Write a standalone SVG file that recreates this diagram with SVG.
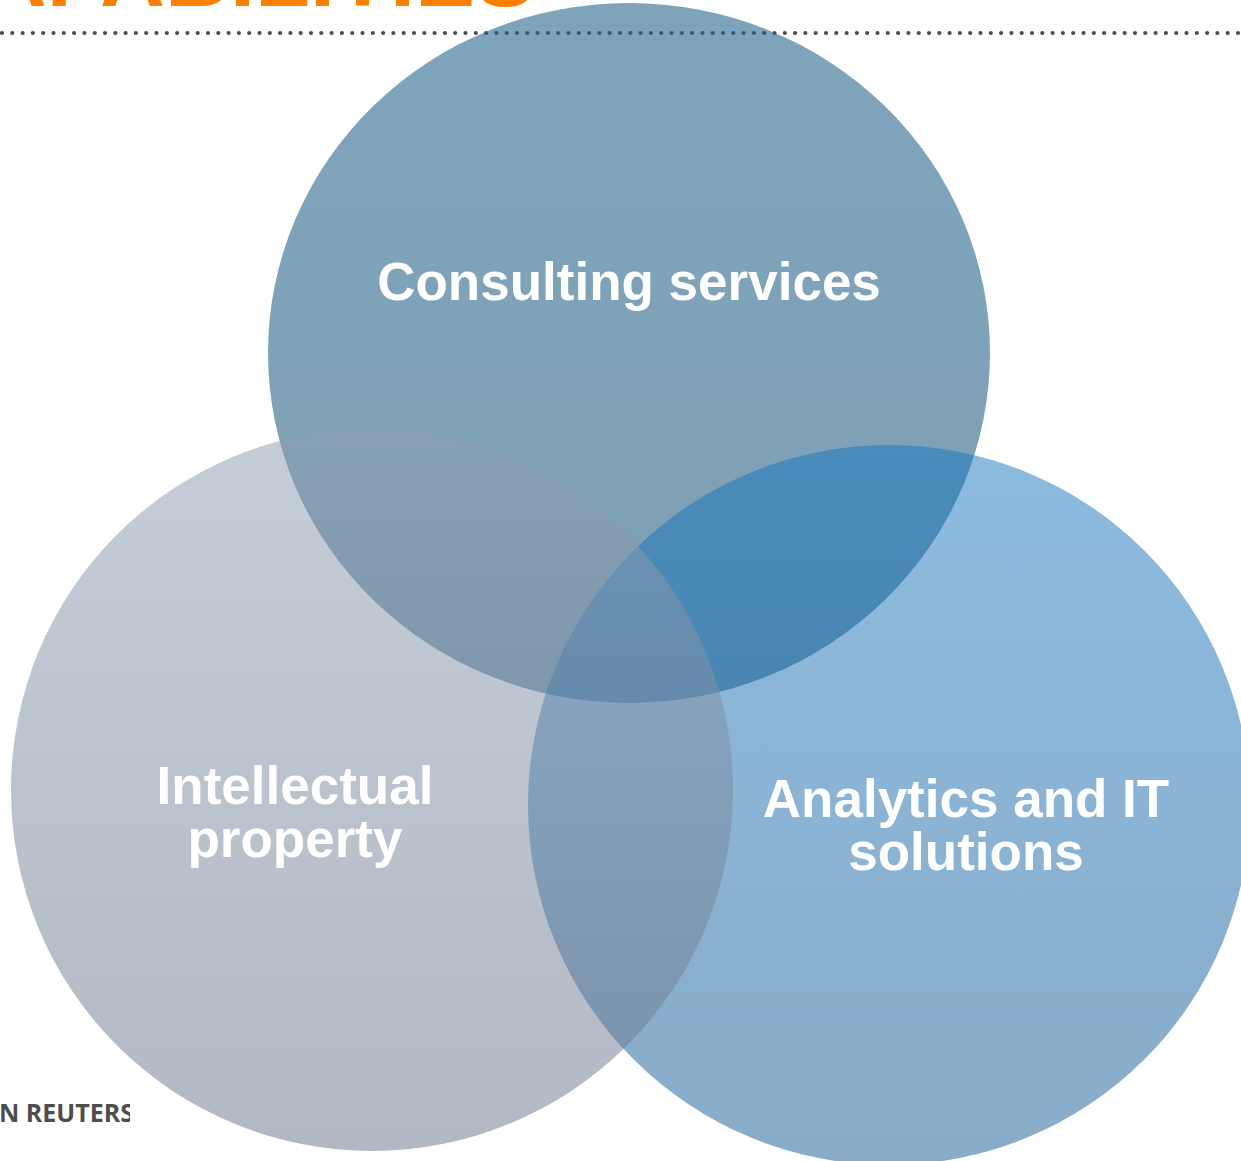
<svg xmlns="http://www.w3.org/2000/svg" width="1241" height="1161" viewBox="0 0 1241 1161">
<style>
.lbl{font-family:"Liberation Sans",Arial,sans-serif;font-weight:bold;font-size:53px;fill:#ffffff;text-anchor:middle}
.title{font-family:"Liberation Sans",Arial,sans-serif;font-weight:bold;font-size:90px;fill:#ff8000;text-anchor:end}
.foot{font-family:"Open Sans","Liberation Sans",sans-serif;font-weight:700;font-size:25px;fill:#4d4d4d}
</style>
<defs>
<linearGradient id="gT" x1="0" y1="0" x2="0" y2="1">
<stop offset="0" stop-color="#21638c"/>
<stop offset="1" stop-color="#215a7c"/>
</linearGradient>
<linearGradient id="gR" x1="0" y1="0" x2="0" y2="1">
<stop offset="0" stop-color="#1474c0"/>
<stop offset="1" stop-color="#0e558f"/>
</linearGradient>
<linearGradient id="gL" x1="0" y1="0" x2="0" y2="1">
<stop offset="0" stop-color="#8e9fb4"/>
<stop offset="1" stop-color="#6b788e"/>
</linearGradient>
<clipPath id="footClip"><rect x="0" y="1090" width="130" height="40"/></clipPath>
</defs>
<rect width="1241" height="1161" fill="#ffffff"/>
<text class="title" x="535" y="6">CAPABILITIES</text>
<line x1="2" y1="33" x2="1241" y2="33" stroke="#4d4d4d" stroke-width="4.2" stroke-linecap="round" stroke-dasharray="0 10.3"/>
<g clip-path="url(#footClip)"><text class="foot" x="-1" y="1122">N REUTERS</text></g>
<g id="consulting">
<ellipse cx="629" cy="353" rx="361" ry="350" fill="url(#gT)" fill-opacity="0.58"/>
</g>
<g id="analytics">
<ellipse cx="889" cy="805" rx="361" ry="360" fill="url(#gR)" fill-opacity="0.49"/>
</g>
<g id="ip">
<ellipse cx="372" cy="790" rx="361" ry="361" fill="url(#gL)" fill-opacity="0.52"/>
</g>
<g id="connectors"></g>
<g id="labels">
<text class="lbl" x="629" y="300">Consulting services</text>
<text class="lbl" x="295" y="804">Intellectual</text>
<text class="lbl" x="295" y="857">property</text>
<text class="lbl" x="966" y="817">Analytics and IT</text>
<text class="lbl" x="966" y="870">solutions</text>
</g>
</svg>
